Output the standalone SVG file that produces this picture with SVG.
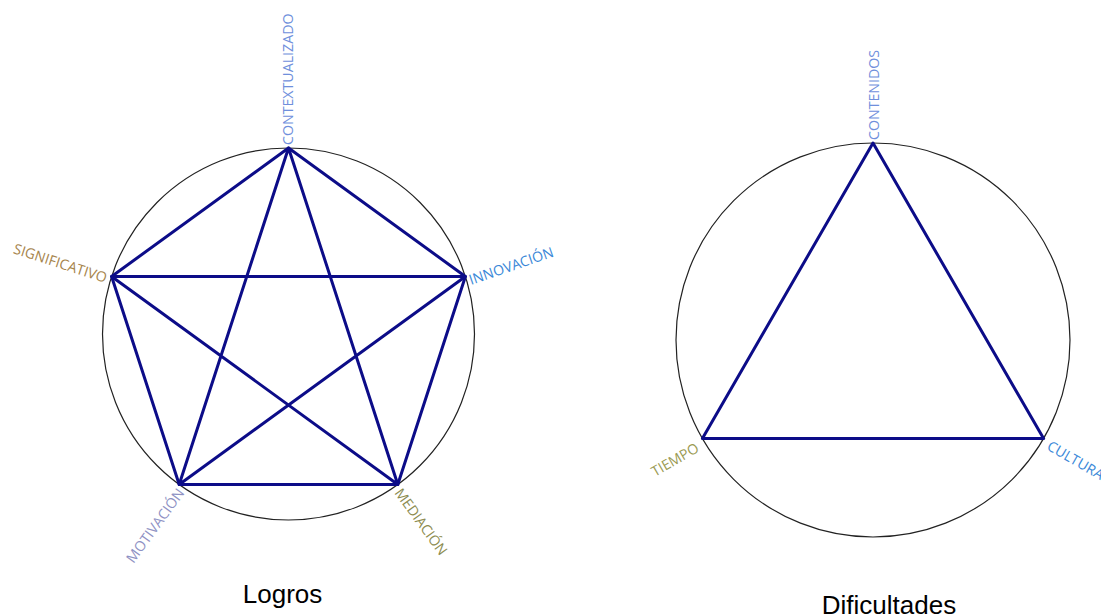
<svg xmlns="http://www.w3.org/2000/svg" width="1101" height="614" viewBox="0 0 1101 614">
<style>
.circ{fill:none;stroke:#222;stroke-width:1.2}
.edge{fill:none;stroke:#0c0c88;stroke-width:3;stroke-linejoin:round;stroke-linecap:round}
.lbl{font-family:"Open Sans","Noto Sans",sans-serif;font-size:14.2px}
.title{font-family:"Liberation Sans",Arial,sans-serif;font-size:26px;fill:#000;text-anchor:middle}
</style>
<rect width="1101" height="614" fill="#fff"/>
<g id="logros">
<circle class="circ" cx="288.5" cy="334" r="186"/>
<g id="connectors-logros">
<polygon class="edge" points="288.5,148 465.4,276.5 397.8,484.5 179.2,484.5 111.6,276.5"/>
<polygon class="edge" points="288.5,148 397.8,484.5 111.6,276.5 465.4,276.5 179.2,484.5"/>
</g>
<g id="n-contextualizado"><text class="lbl" fill="#6f8fdc" transform="translate(293,145) rotate(-90)">CONTEXTUALIZADO</text></g>
<g id="n-significativo"><text class="lbl" fill="#a6844c" text-anchor="end" transform="translate(105,283) rotate(18)">SIGNIFICATIVO</text></g>
<g id="n-innovacion"><text class="lbl" fill="#3a88d8" transform="translate(471,285) rotate(-19)">INNOVACIÓN</text></g>
<g id="n-motivacion"><text class="lbl" fill="#8f92c4" text-anchor="end" transform="translate(185,493) rotate(-54)">MOTIVACIÓN</text></g>
<g id="n-mediacion"><text class="lbl" fill="#8c8c50" transform="translate(394,493) rotate(54)">MEDIACIÓN</text></g>
<text class="title" x="282.5" y="603">Logros</text>
</g>
<g id="dificultades">
<circle class="circ" cx="873" cy="340" r="197"/>
<g id="connectors-dificultades">
<polygon class="edge" points="873,143 1043.6,438.5 702.4,438.5"/>
</g>
<g id="n-contenidos"><text class="lbl" fill="#6f8fdc" transform="translate(879,140) rotate(-90)">CONTENIDOS</text></g>
<g id="n-tiempo"><text class="lbl" fill="#9a9a52" text-anchor="end" transform="translate(700,451) rotate(-30)">TIEMPO</text></g>
<g id="n-cultura"><text class="lbl" fill="#3a88d8" transform="translate(1046,449) rotate(30)">CULTURA</text></g>
<text class="title" x="889" y="614">Dificultades</text>
</g>
</svg>
